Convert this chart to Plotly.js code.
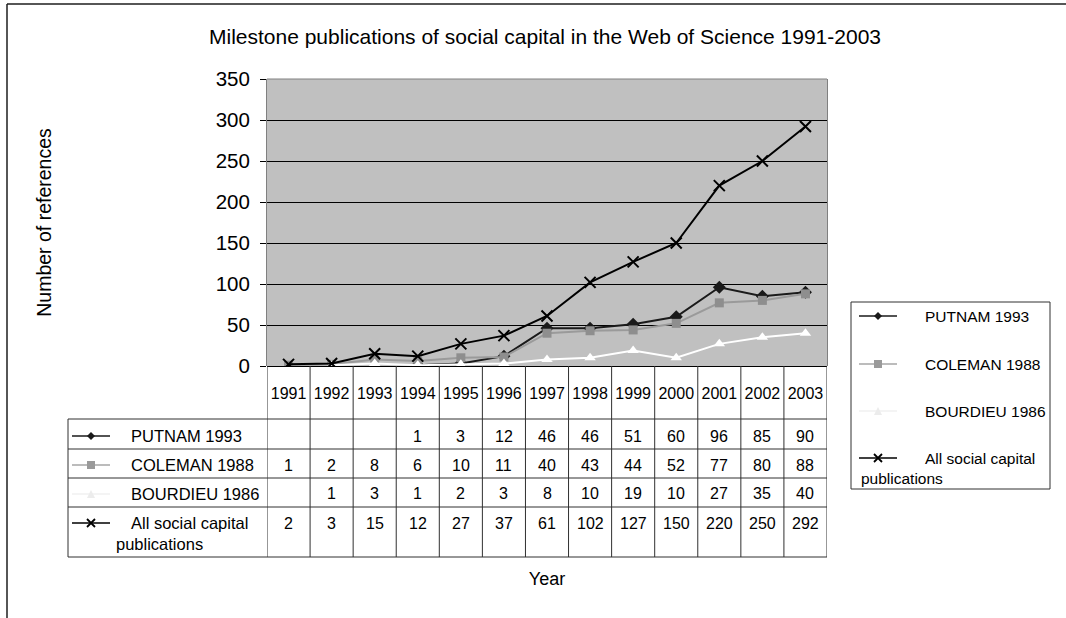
<!DOCTYPE html>
<html>
<head>
<meta charset="utf-8">
<script src="https://cdn.plot.ly/plotly-3.0.1.min.js"></script>
<style>
  html, body { margin: 0; padding: 0; background: #ffffff; }
  #chart { width: 1066px; height: 618px; }
</style>
</head>
<body>
<div id="chart"></div>
<script>
// Citation counts per year, Web of Science 1991-2003
const years    = [1991, 1992, 1993, 1994, 1995, 1996, 1997, 1998, 1999, 2000, 2001, 2002, 2003];
const putnam   = [null, null, null, 1, 3, 12, 46, 46, 51, 60, 96, 85, 90];
const coleman  = [1, 2, 8, 6, 10, 11, 40, 43, 44, 52, 77, 80, 88];
const bourdieu = [null, 1, 3, 1, 2, 3, 8, 10, 19, 10, 27, 35, 40];
const allPubs  = [2, 3, 15, 12, 27, 37, 61, 102, 127, 150, 220, 250, 292];
const seriesNames = ['PUTNAM 1993', 'COLEMAN 1988', 'BOURDIEU 1986', 'All social capital publications'];
const yTicks = [0, 50, 100, 150, 200, 250, 300, 350];

const seriesValues = [putnam, coleman, bourdieu, allPubs];

// Look of each series: line colour, marker shape and colours
const styles = [
  { line: '#1a1a1a', symbol: 'diamond',   size: 10, fill: '#1a1a1a', edge: '#1a1a1a', edgeW: 0, key: 'diamond', keyLine: '#1a1a1a', keyFill: '#1a1a1a' },
  { line: '#9a9a9a', symbol: 'square',    size: 9,  fill: '#8e8e8e', edge: '#8e8e8e', edgeW: 0, key: 'square',  keyLine: '#a6a6a6', keyFill: '#9a9a9a' },
  { line: '#ffffff', symbol: 'triangle-up', size: 10, fill: '#ffffff', edge: '#ffffff', edgeW: 0, key: 'triangle', keyLine: '#f0f0f0', keyFill: '#ececec' },
  { line: '#000000', symbol: 'x-thin',    size: 11, fill: '#000000', edge: '#000000', edgeW: 2, key: 'x',       keyLine: '#000000', keyFill: '#000000' }
];

// Plot-area box in pixels; helpers convert pixel positions to paper coordinates
const L = 267, R = 827, T = 79, B = 366, FIG_W = 1066, FIG_H = 618;
const px = x => (x - L) / (R - L);
const py = y => (B - y) / (B - T);

const FONT = 'Liberation Sans, Arial, sans-serif';

const traces = seriesValues.map((vals, i) => ({
  type: 'scatter',
  mode: 'lines+markers',
  name: seriesNames[i],
  x: years,
  y: vals,
  connectgaps: false,
  line: { color: styles[i].line, width: 2 },
  marker: {
    symbol: styles[i].symbol,
    size: styles[i].size,
    color: styles[i].fill,
    line: { color: styles[i].edge, width: styles[i].edgeW }
  },
  showlegend: false,
  hoverinfo: 'x+y+name'
}));

const shapes = [];
const annotations = [];

function hline(x0, x1, y, color, width, layer) {
  shapes.push({ type: 'line', xref: 'paper', yref: 'paper', x0: px(x0), x1: px(x1), y0: py(y), y1: py(y),
    line: { color: color, width: width }, layer: layer || 'above' });
}
function vlinePx(x, y0, y1, color, width) {
  shapes.push({ type: 'line', xref: 'paper', yref: 'paper', x0: px(x), x1: px(x), y0: py(y0), y1: py(y1),
    line: { color: color, width: width } });
}

// Legend key: short line with the series marker in its middle
function legendKey(cx, cy, st) {
  hline(cx - 19, cx + 19, cy, st.keyLine, 1.5);
  const r = 4;
  let path;
  if (st.key === 'diamond') {
    path = `M ${px(cx - r)} ${py(cy)} L ${px(cx)} ${py(cy - r)} L ${px(cx + r)} ${py(cy)} L ${px(cx)} ${py(cy + r)} Z`;
    shapes.push({ type: 'path', xref: 'paper', yref: 'paper', path, fillcolor: st.keyFill, line: { width: 0 } });
  } else if (st.key === 'square') {
    shapes.push({ type: 'rect', xref: 'paper', yref: 'paper', x0: px(cx - 4), x1: px(cx + 4), y0: py(cy + 4), y1: py(cy - 4),
      fillcolor: st.keyFill, line: { width: 0 } });
  } else if (st.key === 'triangle') {
    path = `M ${px(cx - 4)} ${py(cy + 4)} L ${px(cx)} ${py(cy - 4)} L ${px(cx + 4)} ${py(cy + 4)} Z`;
    shapes.push({ type: 'path', xref: 'paper', yref: 'paper', path, fillcolor: st.keyFill, line: { width: 0 } });
  } else {
    path = `M ${px(cx - 4)} ${py(cy - 4)} L ${px(cx + 4)} ${py(cy + 4)} M ${px(cx - 4)} ${py(cy + 4)} L ${px(cx + 4)} ${py(cy - 4)}`;
    shapes.push({ type: 'path', xref: 'paper', yref: 'paper', path, line: { color: st.keyFill, width: 1.8 } });
  }
}

function label(x, y, text, size, anchor) {
  annotations.push({ xref: 'paper', yref: 'paper', x: px(x), y: py(y), text: text, showarrow: false,
    xanchor: anchor || 'left', yanchor: 'middle', font: { family: FONT, size: size, color: '#000' } });
}

// Split a long series name over two lines
function wrapName(name) {
  if (name.length <= 20) return [name];
  const cut = name.lastIndexOf(' ', 18);
  return [name.slice(0, cut), name.slice(cut + 1)];
}

// Outer frame
vlinePx(7, 4, FIG_H + 2, '#1e1e1e', 1.5);
hline(7, FIG_W + 2, 4, '#1e1e1e', 1.5);

// Top edge of the plot area
hline(L, R, T, '#808080', 1);

// Data table under the plot
const TABLE_LEFT = 68, HEAD_BOTTOM = 419, TABLE_BOTTOM = 557;
const rowLines = [419, 449, 478, 507, 557];
const rowCenters = [436, 465, 494, 523];
rowLines.forEach(y => hline(TABLE_LEFT, R, y, '#303030', 1));
vlinePx(TABLE_LEFT, HEAD_BOTTOM, TABLE_BOTTOM, '#303030', 1);
years.concat([years[years.length - 1] + 1]).forEach(yr => {
  shapes.push({ type: 'line', xref: 'x', yref: 'paper', x0: yr - 0.5, x1: yr - 0.5, y0: py(B), y1: py(TABLE_BOTTOM),
    line: { color: '#303030', width: 1 } });
});

seriesValues.forEach((vals, i) => {
  vals.forEach((v, j) => {
    if (v === null) return;
    annotations.push({ xref: 'x', yref: 'paper', x: years[j], y: py(rowCenters[i]), text: String(v), showarrow: false,
      xanchor: 'center', yanchor: 'middle', font: { family: FONT, size: 16, color: '#000' } });
  });
  legendKey(91, rowCenters[i], styles[i]);
  const lines = wrapName(seriesNames[i]);
  label(129, rowCenters[i], lines[0], 16.5);
  if (lines[1]) label(114, rowCenters[i] + 21, lines[1], 16.5);
});

// Legend box on the right
const LEG = { x0: 851, x1: 1050, y0: 302, y1: 489 };
shapes.push({ type: 'rect', xref: 'paper', yref: 'paper', x0: px(LEG.x0), x1: px(LEG.x1), y0: py(LEG.y1), y1: py(LEG.y0),
  line: { color: '#303030', width: 1 }, fillcolor: 'rgba(0,0,0,0)' });
const legRows = [316, 364, 411, 458];
seriesNames.forEach((nm, i) => {
  legendKey(878, legRows[i], styles[i]);
  const lines = wrapName(nm);
  label(923, legRows[i], lines[0], 15.5);
  if (lines[1]) label(859, legRows[i] + 20, lines[1], 15.5);
});

const layout = {
  width: FIG_W,
  height: FIG_H,
  margin: { l: L, r: FIG_W - R, t: T, b: FIG_H - B, pad: 0 },
  paper_bgcolor: '#ffffff',
  plot_bgcolor: '#c0c0c0',
  font: { family: FONT, color: '#000' },
  showlegend: false,
  title: {
    text: 'Milestone publications of social capital in the Web of Science 1991-2003',
    font: { family: FONT, size: 21, color: '#000' },
    xref: 'container', x: 545 / FIG_W, xanchor: 'center',
    yref: 'container', y: 1 - 37 / FIG_H, yanchor: 'middle'
  },
  xaxis: {
    range: [years[0] - 0.5, years[years.length - 1] + 0.5],
    tickmode: 'array',
    tickvals: years,
    ticktext: years.map(String),
    showgrid: false,
    zeroline: false,
    showline: false,
    ticks: 'outside',
    ticklen: 13,
    tickcolor: 'rgba(0,0,0,0)',
    tickfont: { family: FONT, size: 16, color: '#000' },
    fixedrange: true,
    title: { text: 'Year', font: { family: FONT, size: 18, color: '#000' }, standoff: 171 }
  },
  yaxis: {
    range: [0, 350],
    tickmode: 'array',
    tickvals: yTicks,
    showgrid: true,
    gridcolor: '#000000',
    gridwidth: 1,
    zeroline: true,
    zerolinecolor: '#000000',
    zerolinewidth: 1,
    showline: true,
    mirror: true,
    linecolor: '#808080',
    linewidth: 1,
    ticks: 'outside',
    ticklen: 6,
    tickcolor: '#000000',
    ticklabelstandoff: 6,
    tickfont: { family: FONT, size: 20.5, color: '#000' },
    fixedrange: true,
    title: { text: 'Number of references', font: { family: FONT, size: 19.5, color: '#000' }, standoff: 158 }
  },
  shapes: shapes,
  annotations: annotations
};

Plotly.newPlot('chart', traces, layout, { displayModeBar: false, staticPlot: true });
</script>
</body>
</html>
